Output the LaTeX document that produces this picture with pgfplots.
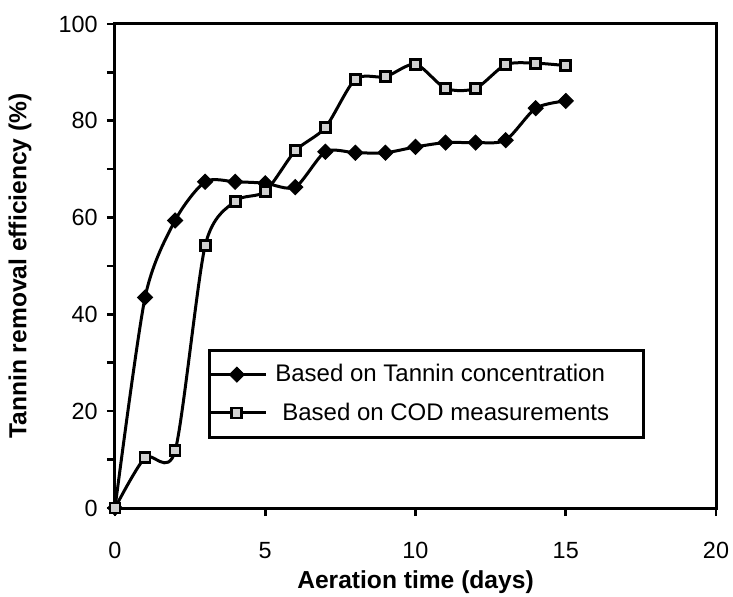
\documentclass[border=0pt]{standalone}
\usepackage{fontspec}
\setmainfont{Liberation Sans}
\usepackage{pgfplots}
\pgfplotsset{compat=1.18}

% Tannin removal efficiency over aeration time
\pgfplotstableread{
day  tannin
0    0
1    43.5
2    59.4
3    67.4
4    67.4
5    67.1
6    66.3
7    73.6
8    73.4
9    73.4
10   74.6
11   75.5
12   75.5
13   76.0
14   82.6
15   84.1
}\tannintable
\pgfplotstableread{
day  cod
0    0
1    10.4
2    11.8
3    54.2
4    63.4
5    65.4
6    73.8
7    78.6
8    88.6
9    89.1
10   91.7
11   86.7
12   86.7
13   91.6
14   91.9
15   91.4
}\codtable

\begin{document}
\begin{tikzpicture}
\begin{axis}[
  name=ax,
  scale only axis,
  width=300.5bp, height=242bp,
  xmin=0, xmax=20, ymin=0, ymax=100,
  clip=false,
  xtick={0,5,...,20}, ytick={0,20,...,100},
  minor ytick={10,30,...,90},
  tick align=outside,
  xtick pos=bottom, ytick pos=left,
  major tick length=4bp, minor tick length=4bp,
  every tick/.style={black, line width=1.3bp},
  axis line style={line width=1.5bp},
  /pgf/number format/assume math mode=true,
  ticklabel style={font=\fontsize{11.7bp}{13bp}\selectfont},
  xticklabel style={yshift=-9.5bp},
  yticklabel style={xshift=-1.2bp},
  xlabel={Aeration time (days)},
  ylabel={Tannin removal efficiency (\%)},
  label style={font=\fontsize{12.3bp}{14bp}\selectfont\bfseries},
  xlabel style={at={(axis description cs:0.5,-0.153)}, anchor=center},
  ylabel style={at={(axis description cs:-0.158,0.5)}, anchor=center},
  legend style={at={(axis description cs:0.1547,0.3285)}, anchor=north west,
    draw=black, line width=1.4bp, inner xsep=0pt, inner ysep=7bp,
    row sep=9bp, column sep=4bp,
    font=\fontsize{12bp}{14bp}\selectfont, nodes={inner sep=0pt}},
  legend cell align=left,
  legend image code/.code={\draw[mark repeat=2,mark phase=2,#1] plot coordinates {(0bp,0bp) (13bp,0bp) (27.5bp,0bp)};},
]
\addplot[black, line width=1.5bp, smooth, tension=0.45, mark=square*, mark size=2.65bp,
  mark options={rotate=45, solid, fill=black, line width=0.5bp}]
  table[x=day, y=tannin] {\tannintable};
\addlegendentry{\makebox[184bp][l]{Based on Tannin concentration}}
\addplot[black, line width=1.5bp, smooth, tension=0.45, mark=square*, mark size=2.5bp,
  mark options={solid, fill=black!18, line width=1.4bp}]
  table[x=day, y=cod] {\codtable};
\addlegendentry{\makebox[184bp][l]{\hspace{3.5bp}Based on COD measurements}}
\end{axis}
\pgfresetboundingbox
\path ([xshift=-57.5bp,yshift=-44.5bp]ax.south west) rectangle ([xshift=8.5bp,yshift=12bp]ax.north east);
\end{tikzpicture}
\end{document}
